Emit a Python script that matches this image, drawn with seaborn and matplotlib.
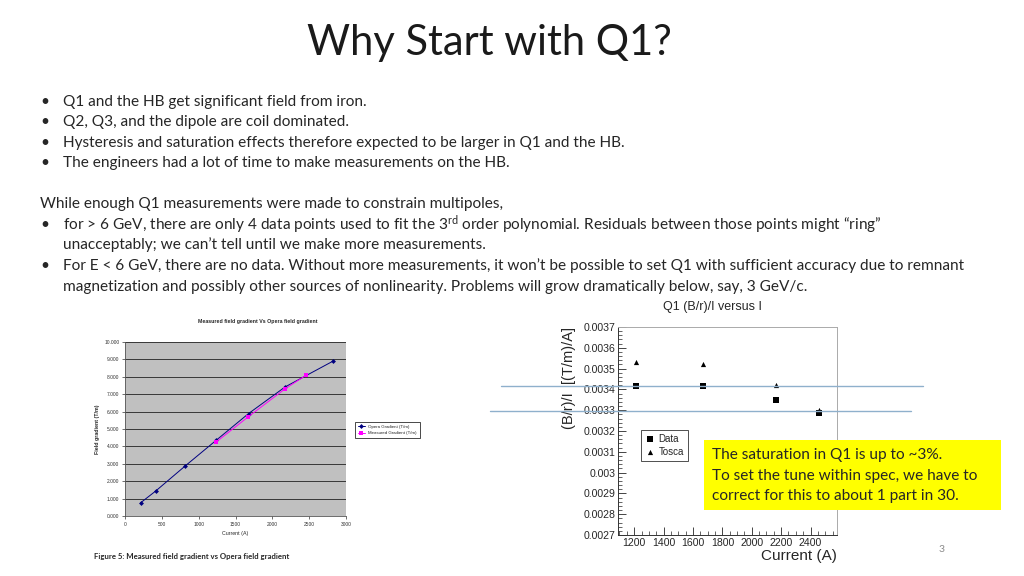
import numpy as np
import matplotlib.pyplot as plt
import seaborn as sns
from matplotlib.ticker import MultipleLocator, AutoMinorLocator, FuncFormatter
from matplotlib.patches import Rectangle

sns.set_theme(style="white")
plt.rcParams['font.family'] = ['Lato', 'DejaVu Sans']
plt.rcParams['mathtext.fontset'] = 'custom'
plt.rcParams['mathtext.rm'] = 'Lato'
plt.rcParams['mathtext.it'] = 'Lato:italic'

# Left chart: Opera vs measured field gradient
opera_current = [212, 415, 821, 1240, 1678, 2174, 2828]
opera_gradient = [0.76, 1.43, 2.89, 4.36, 5.89, 7.42, 8.91]
measured_current = [1231, 1673, 2170, 2458]
measured_gradient = [4.23, 5.70, 7.30, 8.09]

# Right chart: (B/r)/I versus I
q1_current = [1215, 1665, 2168, 2458]
q1_data = [0.003416, 0.003416, 0.003351, 0.003287]
q1_tosca = [0.003532, 0.003521, 0.003420, 0.003302]
ref_levels = [0.003418, 0.003294]

title = "Why Start with Q1?"
bullets_top = [
    "Q1 and the HB get significant field from iron.",
    "Q2, Q3, and the dipole are coil dominated.",
    "Hysteresis and saturation effects therefore expected to be larger in Q1 and the HB.",
    "The engineers had a lot of time to make measurements on the HB.",
]
box_lines = [
    "The saturation in Q1 is up to ~3%.",
    "To set the tune within spec, we have to",
    "correct for this to about 1 part in 30.",
]

W, H = 1024, 576
FS = 11.1
fig = plt.figure(figsize=(10.24, 5.76), dpi=100)


def fx(px):
    return px / W


def fy(py):
    return 1 - py / H


# ---- slide text ----
fig.text(fx(489), fy(43), title, fontsize=30, ha='center', va='center', color='#1a1a1a')

ys = [102, 122, 143, 163]
for y, line in zip(ys, bullets_top):
    fig.text(fx(40), fy(y), "•", fontsize=FS, va='center')
    fig.text(fx(63), fy(y), line, fontsize=FS, va='center')

fig.text(fx(40), fy(204), "While enough Q1 measurements were made to constrain multipoles,",
         fontsize=FS, va='center')
fig.text(fx(40), fy(225), "•", fontsize=FS, va='center')
fig.text(fx(63), fy(225), "for > 6 GeV, there are only 4 data points used to fit the 3$^{\\rm rd}$ order "
         "polynomial. Residuals between those points might \u201cring\u201d", fontsize=FS, va='center')
fig.text(fx(63), fy(245), "unacceptably; we can\u2019t tell until we make more measurements.",
         fontsize=FS, va='center')
fig.text(fx(40), fy(266), "•", fontsize=FS, va='center')
fig.text(fx(63), fy(266), "For E < 6 GeV, there are no data. Without more measurements, it won\u2019t be "
         "possible to set Q1 with sufficient accuracy due to remnant", fontsize=FS, va='center')
fig.text(fx(63), fy(287), "magnetization and possibly other sources of nonlinearity. Problems will "
         "grow dramatically below, say, 3 GeV/c.", fontsize=FS, va='center')

# ---- left chart (Excel style) ----
axl = fig.add_axes([fx(125), fy(516), (346 - 125) / W, (516 - 342) / H])
axl.set_facecolor('#c0c0c0')
sns.lineplot(x=opera_current, y=opera_gradient, ax=axl, color='#000080', marker='D',
             markersize=2.5, linewidth=0.7, markeredgewidth=0, label='Opera Gradient (T/m)')
sns.lineplot(x=measured_current, y=measured_gradient, ax=axl, color='#ff00ff', marker='s',
             markersize=3, linewidth=0.7, markeredgewidth=0, label='Measured Gradient (T/m)')
axl.set_xlim(0, 3000)
axl.set_ylim(0, 10)
axl.yaxis.set_major_locator(MultipleLocator(1))
axl.xaxis.set_major_locator(MultipleLocator(500))
axl.yaxis.set_major_formatter(FuncFormatter(lambda v, p: f"{v:.3f}"))
axl.grid(axis='y', color='#222222', linewidth=0.6)
axl.tick_params(labelsize=3.5, length=2, width=0.5, pad=2, colors='#333333')
axl.tick_params(axis='both', which='both', left=True, bottom=True)
for s in ['top', 'right']:
    axl.spines[s].set_visible(False)
for s in ['left', 'bottom']:
    axl.spines[s].set_color('#555555')
    axl.spines[s].set_linewidth(0.6)
for lab in axl.get_xticklabels() + axl.get_yticklabels():
    lab.set_family('Liberation Sans')
axl.set_xlabel("Current (A)", fontsize=3.8, family='Liberation Sans', labelpad=3)
axl.set_ylabel("Field gradient (T/m)", fontsize=3.8, family='Liberation Sans',
               fontweight='bold', labelpad=3)
lgl = axl.legend(loc='center left', bbox_to_anchor=(fx(355), fy(430)), bbox_transform=fig.transFigure,
                 prop={'family': 'Liberation Sans', 'size': 3.2}, frameon=True, fancybox=False,
                 edgecolor='black', borderpad=0.6, handlelength=1.6, borderaxespad=0,
                 framealpha=1)
lgl.get_frame().set_linewidth(0.5)
fig.text(fx(258), fy(322), "Measured field gradient Vs Opera field gradient", fontsize=3.8,
         family='Liberation Sans', fontweight='bold', ha='center', va='center')
fig.text(fx(94), fy(556), "Figure 5: Measured field gradient vs Opera field gradient",
         fontsize=5.6, fontweight='bold', va='center')

# ---- right chart (ROOT style) ----
axr = fig.add_axes([fx(618), fy(535), (837 - 618) / W, (535 - 327) / H])
axr.set_facecolor('white')
sns.scatterplot(x=q1_current, y=q1_data, ax=axr, marker='s', color='black', s=22,
                edgecolor='black', linewidth=0, label='Data', zorder=3)
sns.scatterplot(x=q1_current, y=q1_tosca, ax=axr, marker='^', color='black', s=14,
                edgecolor='black', linewidth=0, label='Tosca', zorder=3)
axr.set_xlim(1090, 2580)
axr.set_ylim(0.0027, 0.0037)
axr.xaxis.set_major_locator(MultipleLocator(200))
axr.xaxis.set_minor_locator(AutoMinorLocator(4))
axr.yaxis.set_major_locator(MultipleLocator(0.0001))
axr.yaxis.set_minor_locator(AutoMinorLocator(5))
axr.yaxis.set_major_formatter(FuncFormatter(lambda v, p: f"{v:.4f}".rstrip('0')))
axr.tick_params(which='major', direction='in', length=6, width=0.6, labelsize=7.6, pad=2,
                left=True, bottom=True)
axr.tick_params(which='minor', direction='in', length=3, width=0.5, left=True, bottom=True)
for lab in axr.get_xticklabels() + axr.get_yticklabels():
    lab.set_family('Liberation Sans')
for s in ['left', 'bottom']:
    axr.spines[s].set_color('#333333')
    axr.spines[s].set_linewidth(0.7)
for s in ['top', 'right']:
    axr.spines[s].set_color('#aaaaaa')
    axr.spines[s].set_linewidth(0.7)
axr.set_ylabel("(B/r)/I  [(T/m)/A]", fontsize=10.5, family='Liberation Sans', loc='top')
axr.yaxis.set_label_coords(-0.19, 1.0)
axr.set_xlabel("Current (A)", fontsize=11, family='Liberation Sans', loc='right')
axr.xaxis.set_label_coords(1.0, -0.068)
leg = axr.legend(loc='upper left', bbox_to_anchor=(fx(641), fy(430)), bbox_transform=fig.transFigure,
                 prop={'family': 'Liberation Sans', 'size': 7}, frameon=True, fancybox=False,
                 edgecolor='#333333', borderpad=0.4, handletextpad=0.4, labelspacing=0.3,
                 handlelength=1.0, borderaxespad=0, framealpha=1)
leg.get_frame().set_linewidth(0.6)
fig.text(fx(712), fy(307), "Q1 (B/r)/I versus I", fontsize=9, family='Liberation Sans',
         ha='center', va='center')

# reference lines drawn across the chart
x0 = (501 - 618) / 219
x1 = (923 - 618) / 219
axr.plot([x0, x1], [ref_levels[0]] * 2, transform=axr.get_yaxis_transform(), clip_on=False,
         color='#8fb0cc', linewidth=1.0, zorder=4)
x0 = (490 - 618) / 219
x1 = (911 - 618) / 219
axr.plot([x0, x1], [ref_levels[1]] * 2, transform=axr.get_yaxis_transform(), clip_on=False,
         color='#8fb0cc', linewidth=1.0, zorder=4)

# ---- yellow note box ----
fig.add_artist(Rectangle((fx(704), fy(510)), (1001 - 704) / W, (510 - 440) / H,
                         transform=fig.transFigure, facecolor='#ffff00', edgecolor='none', zorder=5))
for y, line in zip([455, 476, 496], box_lines):
    fig.text(fx(712), fy(y), line, fontsize=FS, va='center', zorder=6)

fig.text(fx(942), fy(549), "3", fontsize=7.5, color='#8a8a8a', ha='center', va='center')

fig.savefig("out.png", dpi=100)
